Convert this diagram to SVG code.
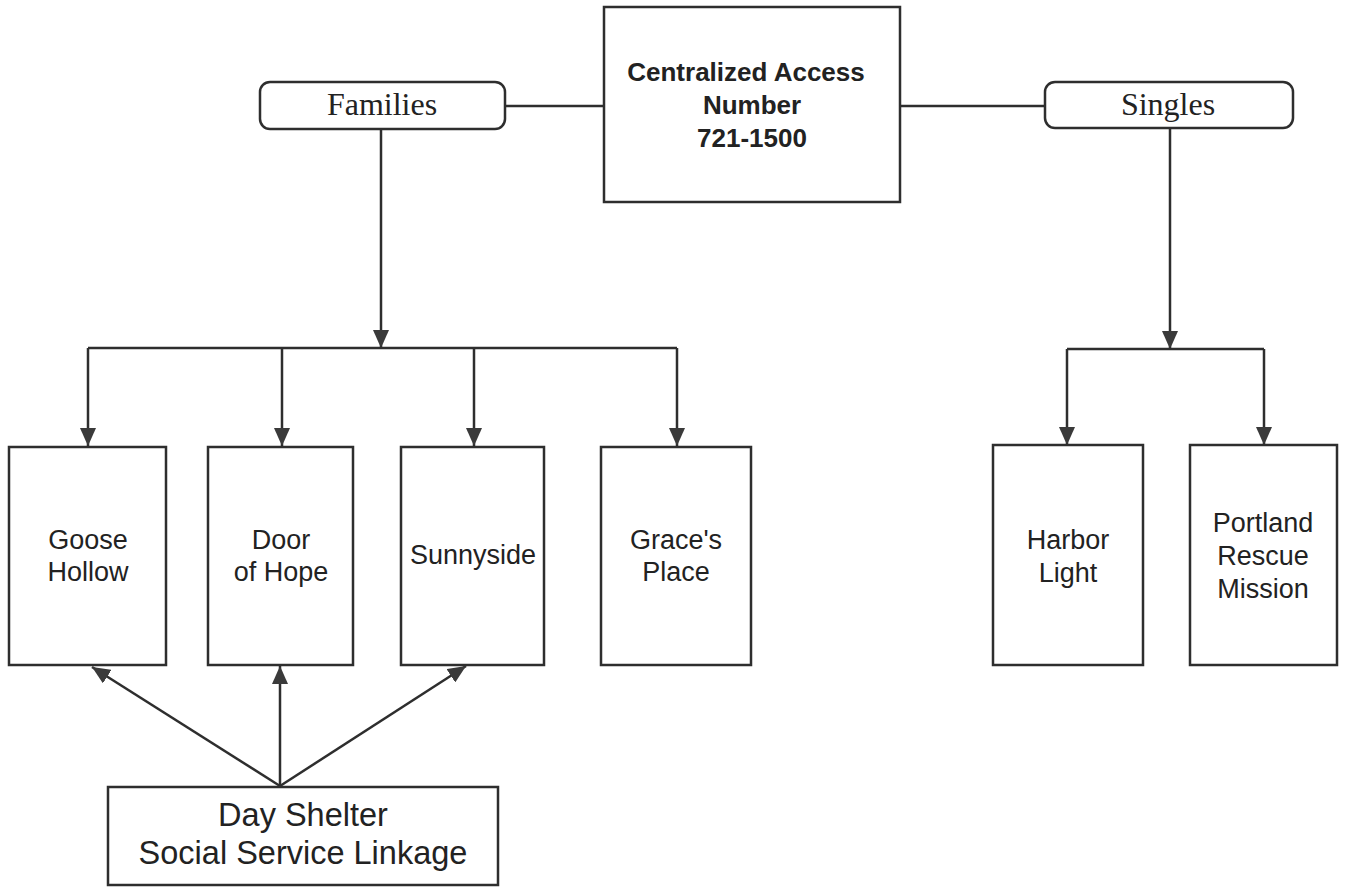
<svg xmlns="http://www.w3.org/2000/svg" width="1351" height="887" viewBox="0 0 1351 887">
<defs>
<marker id="arr" viewBox="0 0 18 16" markerWidth="18" markerHeight="16" refX="18" refY="8" orient="auto" markerUnits="userSpaceOnUse">
<path d="M0,0 L18,8 L0,16 z" fill="#3a3a3a"/>
</marker>
<style>
.box{fill:#fff;stroke:#2e2e2e;stroke-width:2.5}
.ln{fill:none;stroke:#2e2e2e;stroke-width:2.5}
.t{font-family:"Liberation Sans",Arial,sans-serif;font-size:27px;fill:#222;text-anchor:middle}
.tb{font-family:"Liberation Sans",Arial,sans-serif;font-size:26px;font-weight:bold;fill:#222;text-anchor:middle}
.ts{font-family:"Liberation Serif","Times New Roman",serif;font-size:32px;fill:#222;text-anchor:middle}
.tl{font-family:"Liberation Sans",Arial,sans-serif;font-size:32.5px;fill:#222;text-anchor:middle}
</style>
</defs>
<rect width="1351" height="887" fill="#fff"/>
<g id="connectors">
<path class="ln" d="M505,106 H604"/>
<path class="ln" d="M900,106 H1045"/>
<path class="ln" d="M381,129 V348" marker-end="url(#arr)"/>
<path class="ln" d="M88,348 H677"/>
<path class="ln" d="M88,348 V446" marker-end="url(#arr)"/>
<path class="ln" d="M282,348 V446" marker-end="url(#arr)"/>
<path class="ln" d="M474,348 V446" marker-end="url(#arr)"/>
<path class="ln" d="M677,348 V446" marker-end="url(#arr)"/>
<path class="ln" d="M1170,128 V349" marker-end="url(#arr)"/>
<path class="ln" d="M1067,349 H1264"/>
<path class="ln" d="M1067,349 V445" marker-end="url(#arr)"/>
<path class="ln" d="M1264,349 V445" marker-end="url(#arr)"/>
<path class="ln" d="M280,786 L92,667" marker-end="url(#arr)"/>
<path class="ln" d="M280,786 V666" marker-end="url(#arr)"/>
<path class="ln" d="M280,786 L466,666" marker-end="url(#arr)"/>
</g>
<g id="central">
<rect class="box" x="604" y="7" width="296" height="195"/>
<text class="tb" x="746" y="81">Centralized Access</text>
<text class="tb" x="752" y="114">Number</text>
<text class="tb" x="752" y="147">721-1500</text>
</g>
<g id="families">
<rect class="box" x="260" y="82" width="245" height="47" rx="10"/>
<text class="ts" x="382" y="115">Families</text>
</g>
<g id="singles">
<rect class="box" x="1045" y="82" width="248" height="46" rx="10"/>
<text class="ts" x="1168" y="115">Singles</text>
</g>
<g id="goose-hollow">
<rect class="box" x="9" y="447" width="157" height="218"/>
<text class="t" x="88" y="549">Goose</text>
<text class="t" x="88" y="581">Hollow</text>
</g>
<g id="door-of-hope">
<rect class="box" x="208" y="447" width="145" height="218"/>
<text class="t" x="281" y="549">Door</text>
<text class="t" x="281" y="581">of Hope</text>
</g>
<g id="sunnyside">
<rect class="box" x="401" y="447" width="143" height="218"/>
<text class="t" x="473" y="564">Sunnyside</text>
</g>
<g id="graces-place">
<rect class="box" x="601" y="447" width="150" height="218"/>
<text class="t" x="676" y="549">Grace's</text>
<text class="t" x="676" y="581">Place</text>
</g>
<g id="harbor-light">
<rect class="box" x="993" y="445" width="150" height="220"/>
<text class="t" x="1068" y="549">Harbor</text>
<text class="t" x="1068" y="582">Light</text>
</g>
<g id="portland-rescue-mission">
<rect class="box" x="1190" y="445" width="147" height="220"/>
<text class="t" x="1263" y="532">Portland</text>
<text class="t" x="1263" y="565">Rescue</text>
<text class="t" x="1263" y="598">Mission</text>
</g>
<g id="day-shelter">
<rect class="box" x="108" y="787" width="390" height="98"/>
<text class="tl" x="303" y="826">Day Shelter</text>
<text class="tl" x="303" y="864">Social Service Linkage</text>
</g>
</svg>
